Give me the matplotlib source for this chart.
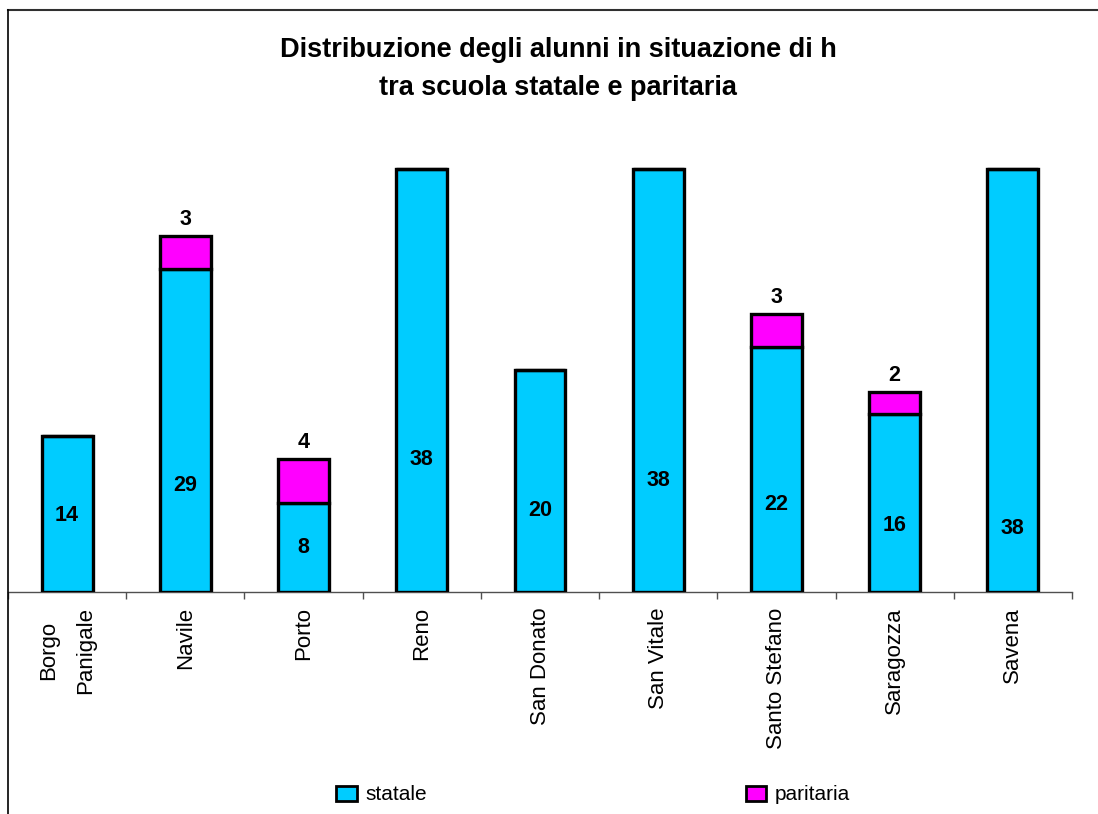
import matplotlib
matplotlib.use("Agg")
import matplotlib.pyplot as plt
from matplotlib.lines import Line2D
from matplotlib.patches import Patch
import numpy as np

# Data: pupils with disabilities by district, state vs. private-equivalent schools
quartieri = ["Borgo\nPanigale", "Navile", "Porto", "Reno", "San Donato",
             "San Vitale", "Santo Stefano", "Saragozza", "Savena"]
statale = [14, 29, 8, 38, 20, 38, 22, 16, 38]
paritaria = [0, 3, 4, 0, 0, 0, 3, 2, 0]
# vertical placement of the in-bar value labels (data units)
pos_etichetta_statale = [6.9, 9.6, 4.0, 11.9, 7.3, 10.0, 7.9, 6.0, 5.7]

col_statale = "#00CCFF"
col_paritaria = "#FF00FF"
font = "Liberation Sans"

fig = plt.figure(figsize=(10.98, 8.14), dpi=100)
fig.patch.set_facecolor("white")

W, H = 1098, 814
ax = fig.add_axes([8 / W, (H - 592) / H, 1064 / W, 445 / H])
ax.set_facecolor("none")

x = np.arange(len(quartieri))
larghezza = 0.43
ax.bar(x, statale, width=larghezza, color=col_statale, edgecolor="black",
       linewidth=2.4, zorder=3)
ax.bar(x, paritaria, width=larghezza, bottom=statale, color=col_paritaria,
       edgecolor="black", linewidth=2.4, zorder=3)

ax.set_xlim(-0.5, len(quartieri) - 0.5)
ax.set_ylim(0, 40)

# value labels
for xi, v, yl in zip(x, statale, pos_etichetta_statale):
    ax.text(xi, yl, str(v), ha="center", va="center", fontsize=15.5,
            fontweight="bold", family=font, zorder=5)
for xi, s, p in zip(x, statale, paritaria):
    if p > 0:
        ax.annotate(str(p), (xi, s + p), xytext=(0, 4), textcoords="offset points",
                    ha="center", va="bottom", fontsize=15.5, fontweight="bold",
                    family=font, zorder=5)

# axes styling
for side in ["top", "right", "left"]:
    ax.spines[side].set_visible(False)
ax.spines["bottom"].set_color("#505050")
ax.spines["bottom"].set_linewidth(1.0)
ax.set_yticks([])
ax.set_xticks(x)
ax.set_xticklabels(quartieri, rotation=90, fontsize=16, family=font,
                   multialignment="center", linespacing=1.95)
ax.tick_params(axis="x", which="major", length=0, pad=11)
ax.set_xticks(np.arange(-0.5, len(quartieri)), minor=True)
ax.tick_params(axis="x", which="minor", length=5, width=1.0, color="#505050",
               direction="out")

# chart frame (top and left edges)
fig.add_artist(Line2D([8 / W, 1.0], [1 - 10 / H, 1 - 10 / H], color="#303030",
                      linewidth=1.5, transform=fig.transFigure))
fig.add_artist(Line2D([8 / W, 8 / W], [0, 1 - 10 / H], color="black",
                      linewidth=1.2, transform=fig.transFigure))

# title
fig.text(558 / W, 1 - 69 / H,
         "Distribuzione degli alunni in situazione di h\ntra scuola statale e paritaria",
         ha="center", va="center", fontsize=19.5, fontweight="bold", family=font,
         linespacing=1.6)

# legend
handles = [Patch(facecolor=col_statale, edgecolor="black", linewidth=2),
           Patch(facecolor=col_paritaria, edgecolor="black", linewidth=2)]
leg = fig.legend(handles, ["statale", "paritaria"], loc="center",
                 bbox_to_anchor=(593 / W, 1 - 795 / H), ncol=2, frameon=False,
                 prop={"family": font, "size": 15}, handlelength=1.0,
                 handleheight=0.75, handletextpad=0.4, columnspacing=15.3)

fig.savefig("out.png", dpi=100, facecolor="white")
